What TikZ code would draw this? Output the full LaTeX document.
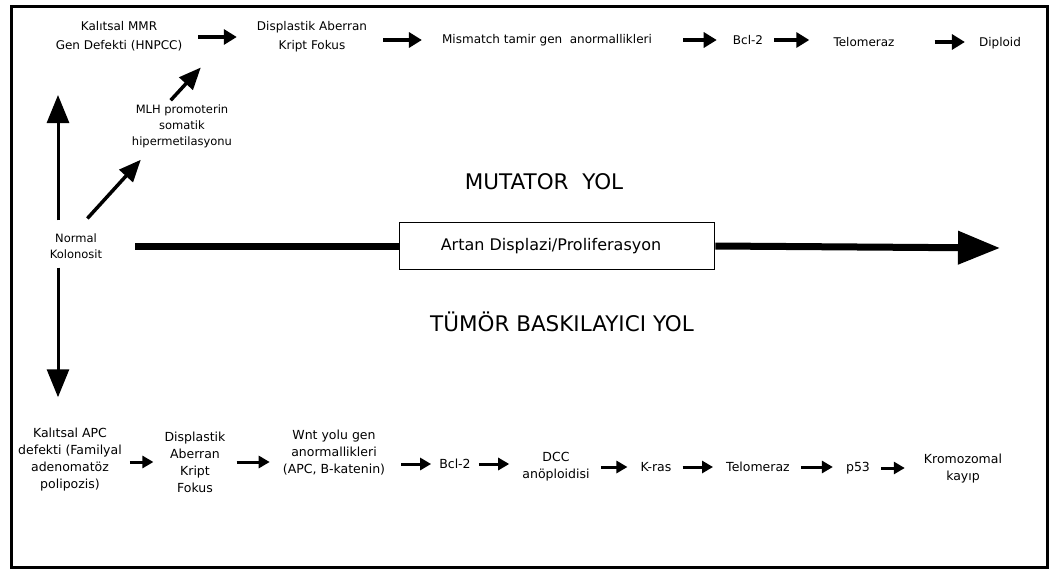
\documentclass[tikz,border=0pt]{standalone}
\usepackage{fontspec}
\setmainfont{DejaVu Sans}
\usepackage{tikz}
\usetikzlibrary{arrows.meta}

\begin{document}
\begin{tikzpicture}[
    x=1pt, y=-1pt,
    %% ── Text styles ──
    lbl/.style={align=center, inner sep=1pt, text=black},
    toplbl/.style={lbl, font=\fontsize{12}{19}\selectfont},
    botlbl/.style={lbl, font=\fontsize{12.5}{17}\selectfont},
    smalllbl/.style={lbl, font=\fontsize{11.5}{16}\selectfont},
    pathlbl/.style={lbl, font=\fontsize{21.5}{24}\selectfont},
    stagebox/.style={draw, line width=1.8pt, minimum width=315pt,
        minimum height=47pt, inner sep=0pt, font=\fontsize{16}{18}\selectfont},
    %% ── Arrow styles ──
    flow/.style={-{Triangle[length=13pt,width=15pt]}, line width=3.5pt,
        shorten <=15pt, shorten >=19pt},
    smallflow/.style={-{Triangle[length=11pt,width=12pt]}, line width=3pt,
        shorten <=10pt, shorten >=12pt},
    bigflow/.style={-{Triangle[length=28pt,width=22pt]}, line width=3pt},
    diagflow/.style={-{Triangle[length=22pt,width=18pt]}, line width=3.5pt},
    mainflow/.style={-{Triangle[length=42pt,width=32pt]}, line width=7pt},
]
\useasboundingbox (0,0) rectangle (1053,573);

% ── Frame ──
\draw[line width=3pt] (11,6) rectangle (1047,567);

% ── Start ──
\node[smalllbl] (normal) at (76,246) {Normal\\Kolonosit};

% ── Mutator path (top row) ──
\node[toplbl] (mmr)      at (119,36) {Kalıtsal MMR\\Gen Defekti (HNPCC)};
\node[toplbl] (aberran)  at (312,37) {Displastik Aberran\\Kript Fokus};
\node[toplbl] (mismatch) at (547,40) {Mismatch tamir gen\ \ anormallikleri};
\node[toplbl] (bcl)      at (748,40) {Bcl-2};
\node[toplbl] (telo)     at (864,42) {Telomeraz};
\node[toplbl] (diploid)  at (1000,43) {Diploid};
\node[smalllbl] (mlh)    at (182,126) {MLH promoterin\\somatik\\hipermetilasyonu};

% ── Middle ──
\node[pathlbl] (mutator) at (544,182) {MUTATOR\ \ YOL};
\node[stagebox] (artan)  at (557,246) {\hspace*{-12pt}Artan Displazi/Proliferasyon};
\node[pathlbl] (tumor)   at (562,322) {TÜMÖR BASKILAYICI YOL};
\coordinate (mainend) at (1000,248);

% ── Tumour suppressor path (bottom row) ──
\node[botlbl] (apc)    at (70,460)  {Kalıtsal APC\\defekti (Familyal\\adenomatöz\\polipozis)};
\node[botlbl] (aber2)  at (195,462) {Displastik\\Aberran\\Kript\\Fokus};
\node[botlbl] (wnt)    at (334,453) {Wnt yolu gen\\anormallikleri\\(APC, B-katenin)};
\node[botlbl] (bcl2)   at (455,464) {Bcl-2};
\node[botlbl] (dcc)    at (556,467) {DCC\\anöploidisi};
\node[botlbl] (kras)   at (656,467) {K-ras};
\node[botlbl] (telo2)  at (758,467) {Telomeraz};
\node[botlbl] (p53)    at (858,468) {p53};
\node[botlbl] (krom)   at (963,469) {Kromozomal\\kayıp};

% Top row arrows
\draw[flow] (mmr.east |- aberran.west) -- (aberran.west);
\draw[flow] (aberran.east |- mismatch.west) -- (mismatch.west);
\draw[flow, shorten <=30pt, shorten >=15pt] (mismatch.east) -- (bcl.west);
\draw[flow, shorten <=10pt, shorten >=23pt] (bcl.east) -- (telo.west |- bcl.east);
\draw[flow, shorten <=39pt, shorten >=13pt] (telo.east) -- (diploid.west |- telo.east);

% Diagonals into the mutator path
\draw[diagflow, shorten <=8pt] ([xshift=6pt,yshift=8pt]normal.north) -- ([xshift=10pt,yshift=-11pt]mlh.south west);
\draw[diagflow, shorten <=4pt] ([xshift=-14pt]mlh.north) -- ([xshift=-55pt,yshift=-14pt]aberran.south west);

% Vertical arrows out of the normal colonocyte
\coordinate (uptip) at (58,95);
\draw[bigflow] ([yshift=12pt]normal.north -| uptip) -- (uptip);
\draw[bigflow, shorten >=30pt] ([yshift=-8pt]normal.south -| uptip) -- (apc.north -| uptip);

% Main horizontal arrow
\draw[line width=7pt, shorten <=32pt] (normal.east) -- (artan.west);
\draw[mainflow] (artan.east) -- (mainend);

% Bottom row arrows
\draw[smallflow, shorten <=7pt, shorten >=10pt] (apc.east |- aber2.west) -- (aber2.west);
\draw[smallflow] (aber2.east) -- (wnt.west |- aber2.east);
\draw[smallflow, shorten <=15pt, shorten >=7pt] (wnt.east |- bcl2.west) -- (bcl2.west);
\draw[smallflow, shorten <=7pt, shorten >=12pt] (bcl2.east) -- (dcc.west |- bcl2.east);
\draw[smallflow] (dcc.east) -- (kras.west);
\draw[smallflow] (kras.east) -- (telo2.west);
\draw[smallflow] (telo2.east) -- (p53.west |- telo2.east);
\draw[smallflow, shorten >=18pt] (p53.east) -- (krom.west |- p53.east);

\end{tikzpicture}
\end{document}
